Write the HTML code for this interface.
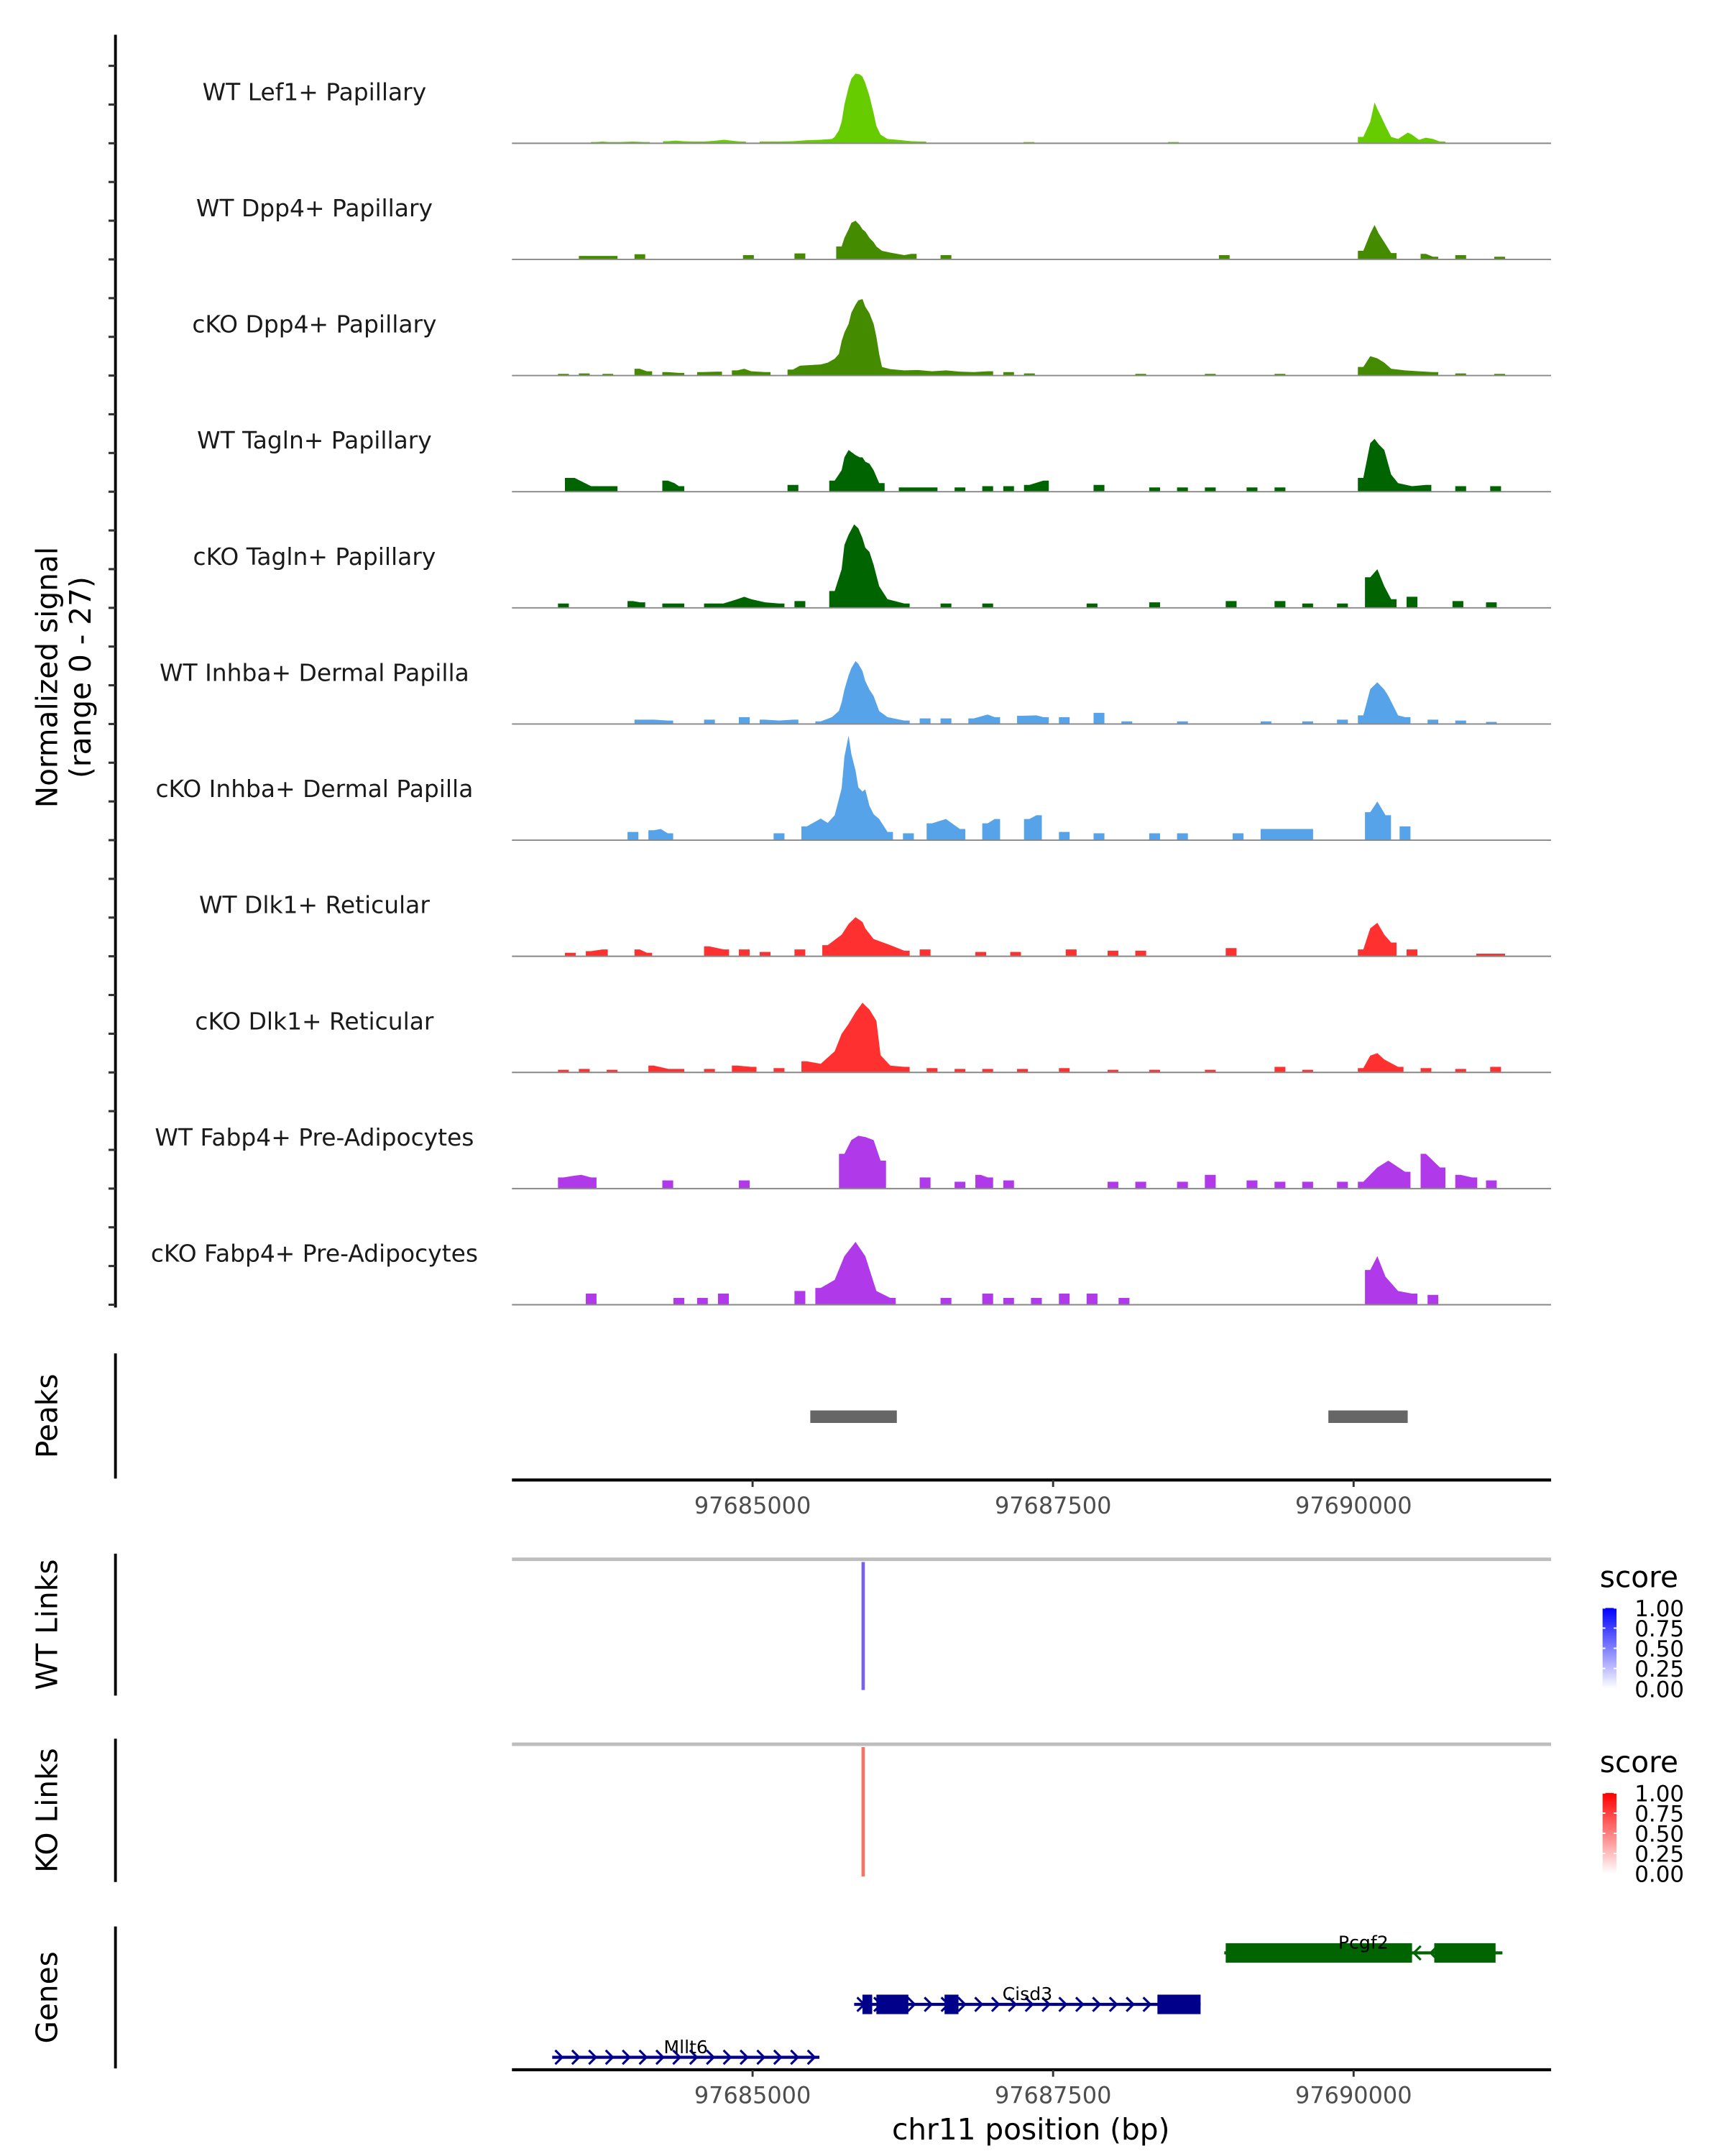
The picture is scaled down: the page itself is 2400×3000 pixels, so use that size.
<!DOCTYPE html>
<html><head><meta charset="utf-8">
<style>
html,body{margin:0;padding:0;background:#fff;}
svg{display:block;font-family:"DejaVu Sans","Liberation Sans",sans-serif;}
</style></head>
<body>
<svg id="chart" width="2400" height="3000" viewBox="0 0 1240 1550" preserveAspectRatio="none" xmlns="http://www.w3.org/2000/svg">
<g>
<text x="41" y="487" font-size="21" text-anchor="middle" transform="rotate(-90 41 487)" fill="#000">Normalized signal</text>
<text x="65" y="487" font-size="21" text-anchor="middle" transform="rotate(-90 65 487)" fill="#000">(range 0 - 27)</text>
</g>
<g id="tracks"></g>
<g id="peaks"></g>
<g id="links"></g>
<g id="genes"></g>
</svg>
<script>
const NS = "http://www.w3.org/2000/svg";
const ORIGIN = 97685000;
// x-axis ticks (bp)
const xTicks = [97685000, 97687500, 97690000];
const xTickLabels = ["97685000", "97687500", "97690000"];
const regionStart = 97682998, regionEnd = 97691643;
const yMax = 27;

const trackNames = ["WT Lef1+ Papillary","WT Dpp4+ Papillary","cKO Dpp4+ Papillary","WT Tagln+ Papillary","cKO Tagln+ Papillary","WT Inhba+ Dermal Papilla","cKO Inhba+ Dermal Papilla","WT Dlk1+ Reticular","cKO Dlk1+ Reticular","WT Fabp4+ Pre-Adipocytes","cKO Fabp4+ Pre-Adipocytes"];
const trackColors = ["#66cc00","#458b00","#458b00","#006400","#006400","#56a3e9","#56a3e9","#ff3030","#ff3030","#b03ae9","#b03ae9"];

// signal: [bp offset from ORIGIN, normalized value]
const sigLef1WT = [[-1300,.3],[-1250,.4],[-1200,.3],[-1100,.3],[-1000,.4],[-900,.3],[-700,.5],[-640,.6],[-580,.5],[-500,.4],[-400,.4],[-300,.6],[-240,.8],[-180,.6],[-100,.4],[104,.4],[220,.4],[336,.5],[450,.7],[567,.8],[660,1],[683,1.5],[718,3],[741,5],[764,9],[799,13],[822,15],[856,16.2],[891,16],[914,15.5],[938,14],[972,11],[1007,7],[1030,4],[1065,2],[1123,1],[1204,.8],[1319,.5],[1400,.4],[2300,.3],[3500,.3],[5081,1.5],[5139,5],[5174,9.5],[5197,8],[5232,6],[5266,4],[5312,1.5],[5370,1],[5451,2.5],[5486,2],[5544,.8],[5602,1.3],[5660,1],[5718,.4]];
const sigDpp4WT = [[-1400,.8],[-1343,.8],[-1204,.8],[-1169,.8],[-938,1.2],[-35,1],[394,1.4],[741,3],[764,5],[799,7],[822,8.5],[856,9],[891,8],[914,7],[938,6.5],[972,5],[1007,4],[1030,3],[1076,2],[1146,1.6],[1262,1],[1319,1.3],[1609,1],[3924,1],[5081,2],[5139,6],[5174,8],[5209,6],[5255,4],[5312,1.5],[5602,1.3],[5660,.6],[5891,1],[6215,.6]];
const sigDpp4KO = [[-1574,.4],[-1400,.5],[-1204,.4],[-938,1.6],[-880,1],[-706,.8],[-613,.6],[-417,.8],[-300,.9],[-127,1.2],[-69,1.6],[-12,1],[104,.8],[336,1.4],[394,2.3],[451,2.4],[567,2.6],[625,3],[683,3.9],[718,5],[741,8],[764,10],[799,12],[822,14.6],[856,16.5],[880,17.5],[914,17.8],[938,16],[972,14.5],[1007,12],[1030,9],[1053,5],[1076,2],[1146,1.5],[1262,1.2],[1377,1.3],[1493,1],[1609,1.2],[1725,.9],[1840,.8],[1956,1],[2130,.8],[2303,.5],[3229,.4],[3808,.4],[4387,.4],[5081,2],[5139,4.5],[5197,4],[5255,3],[5312,1.6],[5428,1.2],[5544,1],[5660,.8],[5891,.5],[6215,.4]];
const sigTaglnWT = [[-1516,3.2],[-1480,3.2],[-1343,1.3],[-1250,1.3],[-1169,1.3],[-706,2.6],[-650,2],[-613,1.3],[336,1.6],[683,2.6],[741,5],[764,8],[799,9.7],[822,9.2],[856,8.5],[891,8],[914,8],[938,7],[972,6.5],[1007,5],[1053,2],[1262,1],[1377,1],[1493,1],[1725,1],[1956,1.3],[2130,1.3],[2303,1.6],[2419,2.6],[2882,1.6],[3345,1],[3576,1],[3808,1],[4155,1],[4387,1],[5081,3.2],[5139,11.3],[5174,12.3],[5209,11],[5255,9.7],[5312,4],[5370,2],[5486,1.3],[5602,1.6],[5891,1.3],[6181,1.3]];
const sigTaglnKO = [[-1574,1],[-995,1.6],[-938,1.3],[-706,1],[-613,1],[-359,1],[-243,1],[-127,2],[-69,2.6],[-12,2],[104,1.3],[220,1],[394,1.6],[683,3.9],[741,9],[764,14.6],[799,17],[845,19.4],[880,18.5],[914,16.2],[938,14],[972,13],[1007,10],[1053,5],[1123,2],[1262,1],[1609,1],[1956,1],[2824,1],[3345,1.3],[3981,1.6],[4387,1.6],[4618,1],[4907,1],[5139,7.1],[5197,9],[5255,5],[5312,2],[5486,2.6],[5868,1.6],[6146,1.3]];
const sigInhbaWT = [[-938,1],[-822,1],[-706,.8],[-359,1],[-69,1.6],[104,1],[220,.8],[336,1],[567,.6],[660,1.6],[718,3],[741,5],[764,8],[799,11.3],[822,13],[856,14.6],[880,14],[914,12.3],[938,10],[972,8],[1007,6.5],[1053,3],[1123,1.6],[1262,.8],[1435,1.3],[1609,1.3],[1840,1.3],[1956,2.2],[2014,1.6],[2245,1.9],[2361,2],[2419,1.6],[2593,1.6],[2882,2.6],[3113,.6],[3576,.6],[4271,.6],[4618,.6],[4907,1],[5081,2],[5139,8.1],[5197,9.7],[5255,8],[5289,6.5],[5370,2],[5428,1.6],[5660,1],[5891,.8],[6146,.5]];
const sigInhbaKO = [[-995,1.9],[-822,2.3],[-764,2.6],[-706,1.6],[220,1.6],[451,3.2],[567,5],[625,4],[683,5.8],[741,12],[764,19.4],[799,24.3],[822,20],[856,16.2],[880,12.3],[914,11.3],[938,11.8],[972,8],[1007,6],[1053,4.9],[1123,1.9],[1296,1.6],[1493,3.9],[1609,4.9],[1725,2.6],[1956,3.9],[2014,4.9],[2303,4.9],[2361,5.8],[2593,1.9],[2882,1.6],[3345,1.6],[3576,1.6],[4039,1.6],[4271,2.6],[4387,2.6],[4502,2.6],[4618,2.6],[5139,6.5],[5197,9],[5266,5.8],[5428,3.2]];
const sigDlk1WT = [[-1516,.8],[-1343,1.2],[-1250,1.6],[-938,1.6],[-880,.8],[-359,2.3],[-240,1.6],[-69,1.6],[104,1],[394,1.6],[625,2.6],[741,5],[799,7.5],[856,9.1],[914,8],[938,6.5],[1007,4],[1146,2.6],[1262,1.3],[1435,1.6],[1898,1],[2188,1],[2650,1.6],[2998,1.3],[3229,1.3],[3981,1.9],[5081,1.6],[5139,6.5],[5197,7.8],[5255,5],[5312,3.2],[5486,1.6],[6065,.6],[6215,.6]];
const sigDlk1KO = [[-1574,.6],[-1400,.8],[-1169,.6],[-822,1.6],[-700,.8],[-613,.8],[-359,.8],[-127,1.6],[-12,1.3],[220,1],[451,2.6],[567,2],[683,4.9],[741,9],[799,11.3],[856,14],[914,16.2],[972,14.6],[1030,12],[1065,4],[1146,1.6],[1262,1.3],[1493,1],[1725,.8],[1956,.8],[2245,.8],[2593,1],[2998,.6],[3345,.6],[3808,.6],[4387,1.3],[4618,.6],[5081,1],[5139,3.9],[5197,4.5],[5255,3],[5370,1.3],[5602,1],[5891,.8],[6181,1.3]];
const sigFabp4WT = [[-1574,2.6],[-1480,3],[-1424,3.2],[-1343,2.6],[-706,1.9],[-69,1.9],[764,8.1],[822,11.3],[880,12.3],[938,12],[1007,11.3],[1065,6.5],[1435,2.6],[1725,1.6],[1898,3.2],[1956,2.6],[2130,1.9],[2998,1.6],[3229,1.6],[3576,1.6],[3808,3.2],[4155,1.9],[4387,1.6],[4618,1.6],[4907,1.6],[5081,1.6],[5197,4.9],[5289,6.5],[5428,3.9],[5602,8.1],[5718,4.9],[5891,3.2],[5984,2.6],[6146,1.9]];
const sigFabp4KO = [[-1343,2.6],[-613,1.6],[-417,1.6],[-243,2.6],[394,3.2],[567,3.9],[683,5.8],[764,11.3],[856,14.6],[938,11.3],[1030,3.2],[1146,1.6],[1609,1.6],[1956,2.6],[2130,1.6],[2361,1.6],[2593,2.6],[2824,2.6],[3090,1.6],[5139,8.1],[5197,11.3],[5266,6.5],[5370,3.2],[5486,2.6],[5660,2.3]];
const trackSignals = [sigLef1WT,sigDpp4WT,sigDpp4KO,sigTaglnWT,sigTaglnKO,sigInhbaWT,sigInhbaKO,sigDlk1WT,sigDlk1KO,sigFabp4WT,sigFabp4KO];

// peaks (bp)
const peakStarts = [97685480, 97689790];
const peakEnds = [97686200, 97690450];
// links
const linkPos = [97685920];
const wtLinkScore = [0.72];
const koLinkScore = [0.68];
// genes
const geneNames = ["Pcgf2","Cisd3","Mllt6"];
const geneStarts = [97688924, 97685845, 97683333];
const geneEnds = [97691238, 97688727, 97685556];
const geneStrand = ["-","+","+"];
const geneExons = [[[97688936,97690486],[97690671,97691181]],[[97685914,97685995],[97686030,97686296],[97686597,97686713],[97688368,97688727]],[]];
const geneColors = ["#006400","#00008b","#00008b"];

// scales (layout)
const PX0 = 368, PX1 = 1115;
function x(bp){ return PX0 + (bp - regionStart) / (regionEnd - regionStart) * (PX1 - PX0); }
const trackTop0 = 19.5, trackH = 83.5;
function yTrack(i, v){ return trackTop0 + (i+1)*trackH - v / yMax * trackH; }

function el(tag, attrs, parent){
  const e = document.createElementNS(NS, tag);
  for (const k in attrs) e.setAttribute(k, attrs[k]);
  parent.appendChild(e);
  return e;
}
const svg = document.getElementById('chart');
const gT = document.getElementById('tracks');

// y axis
let ax = el('line',{x1:83,y1:25,x2:83,y2:940,stroke:'#000','stroke-width':2},gT);


for (let i=0;i<trackNames.length;i++){
  const base = yTrack(i,0);
  for (let k=0;k<3;k++){
    const yy = base - k*trackH/3;
    const t = el('line',{x1:78,y1:yy,x2:83,y2:yy,stroke:'#333','stroke-width':1.6},gT);
    
    
  }
  const g = el('g',{},gT);
  
  
  const lab = el('text',{x:226,y:base-31,'font-size':17,'text-anchor':'middle',fill:'#1a1a1a'},g);
  lab.textContent = trackNames[i];
  
  
  const pts = trackSignals[i].map(p=>[ORIGIN+p[0],p[1]]).sort((a,b)=>a[0]-b[0]);
  let runs=[], cur=[];
  pts.forEach(p=>{ if(cur.length && p[0]-cur[cur.length-1][0]>150){runs.push(cur);cur=[];} cur.push(p); });
  if(cur.length) runs.push(cur);
  let d='';
  runs.forEach(r=>{
    const a=r[0][0]-45, b=r[r.length-1][0]+45;
    d+='M'+x(a).toFixed(1)+','+base.toFixed(1);
    d+='L'+x(a).toFixed(1)+','+yTrack(i,r[0][1]).toFixed(1);
    r.forEach(p=>{ d+='L'+x(p[0]).toFixed(1)+','+yTrack(i,p[1]).toFixed(1); });
    d+='L'+x(b).toFixed(1)+','+yTrack(i,r[r.length-1][1]).toFixed(1);
    d+='L'+x(b).toFixed(1)+','+base.toFixed(1)+'Z';
  });
  const area = el('path',{d:d,fill:trackColors[i]},g);
  
  
  const bl = el('line',{x1:PX0,y1:base,x2:PX1,y2:base,stroke:'#888','stroke-width':1},g);
  
  
}

function xAxis(parent, yy, name){
  const g = el('g',{},parent);
  
  
  el('line',{x1:PX0,y1:yy,x2:PX1,y2:yy,stroke:'#000','stroke-width':2.2},g);
  xTicks.forEach((t,j)=>{
    el('line',{x1:x(t),y1:yy,x2:x(t),y2:yy+5,stroke:'#333','stroke-width':1.5},g);
    const tx = el('text',{x:x(t),y:yy+24,'font-size':16.5,'text-anchor':'middle',fill:'#4d4d4d'},g);
    tx.textContent = xTickLabels[j];
    
    
  });
}
function sideTitle(parent, label, y1, y2, name){
  const g = el('g',{},parent);
  
  
  el('line',{x1:83,y1:y1,x2:83,y2:y2,stroke:'#000','stroke-width':2},g);
  const cy=(y1+y2)/2;
  const t = el('text',{x:41,y:cy,'font-size':21,'text-anchor':'middle',transform:'rotate(-90 41 '+cy+')',fill:'#000'},g);
  t.textContent = label;
}

// peaks
const gP = document.getElementById('peaks');
sideTitle(gP,'Peaks',973,1063,'peaks-title');
peakStarts.forEach((s,j)=>{
  const r = el('rect',{x:x(s),y:1014,width:x(peakEnds[j])-x(s),height:9,fill:'#666'},gP);
  
  
});
xAxis(gP,1064,'peaks-x-axis');

// links
const gL = document.getElementById('links');
function linkPanel(label, top, bottom, scores, color, gradId, cTop, name){
  sideTitle(gL,label,top-4,bottom,name+'-title');
  el('line',{x1:PX0,y1:top,x2:PX1,y2:top,stroke:'#bdbdbd','stroke-width':2.5},gL);
  linkPos.forEach((p,j)=>{
    const l = el('line',{x1:x(p),y1:top+2,x2:x(p),y2:bottom-4,stroke:color,'stroke-width':2.4,opacity:0.6+0.4*scores[j]},gL);
    
    
  });
  const lg = el('g',{},gL);
  
  
  const st = el('text',{x:1150,y:top+20,'font-size':21,fill:'#000'},lg); st.textContent='score';
  const defs = el('defs',{},lg);
  const gr = el('linearGradient',{id:gradId,x1:0,y1:0,x2:0,y2:1},defs);
  el('stop',{offset:0,'stop-color':cTop},gr);
  el('stop',{offset:1,'stop-color':'#ffffff'},gr);
  const bt = top+35, bb = top+93;
  el('rect',{x:1152,y:bt,width:10,height:bb-bt,fill:'url(#'+gradId+')'},lg);
  ['1.00','0.75','0.50','0.25','0.00'].forEach((s,k)=>{
    const yy = bt + k*(bb-bt)/4;
    el('line',{x1:1152,y1:yy,x2:1154,y2:yy,stroke:'#fff','stroke-width':1},lg);
    el('line',{x1:1160,y1:yy,x2:1162,y2:yy,stroke:'#fff','stroke-width':1},lg);
    const t = el('text',{x:1175,y:yy+6,'font-size':16,fill:'#000'},lg); t.textContent=s;
  });
}
linkPanel('WT Links',1121,1219,wtLinkScore,'#6a4cf0','gradBlue','#0000ff','wt-links');
linkPanel('KO Links',1254,1353,koLinkScore,'#f4604a','gradRed','#ff0000','ko-links');

// genes
const gG = document.getElementById('genes');
sideTitle(gG,'Genes',1385,1487,'genes-title');
const geneY = [1404,1441,1479];
geneNames.forEach((n,j)=>{
  const g = el('g',{},gG);
  
  
  const yy = geneY[j], c = geneColors[j];
  el('line',{x1:x(geneStarts[j]),y1:yy,x2:x(geneEnds[j]),y2:yy,stroke:c,'stroke-width':2.2},g);
  for (let bp = geneStarts[j]+60; bp < geneEnds[j]-40; bp += 140){
    const cx = x(bp);
    const dd = geneStrand[j]=='+' ? 'M'+(cx-3)+','+(yy-5)+'L'+(cx+2)+','+yy+'L'+(cx-3)+','+(yy+5) : 'M'+(cx+3)+','+(yy-5)+'L'+(cx-2)+','+yy+'L'+(cx+3)+','+(yy+5);
    el('path',{d:dd,stroke:c,'stroke-width':1.6,fill:'none'},g);
  }
  geneExons[j].forEach(ex=>{
    el('rect',{x:x(ex[0]),y:yy-7,width:x(ex[1])-x(ex[0]),height:14,fill:c},g);
  });
  const t = el('text',{x:x((geneStarts[j]+geneEnds[j])/2),y:yy-3,'font-size':13,'text-anchor':'middle',fill:'#000'},g);
  t.textContent = n;
});
xAxis(gG,1488,'genes-x-axis');
const xt = el('text',{x:741,y:1538,'font-size':21,'text-anchor':'middle',fill:'#000'},gG);
xt.textContent = 'chr11 position (bp)';


</script>
</body></html>
